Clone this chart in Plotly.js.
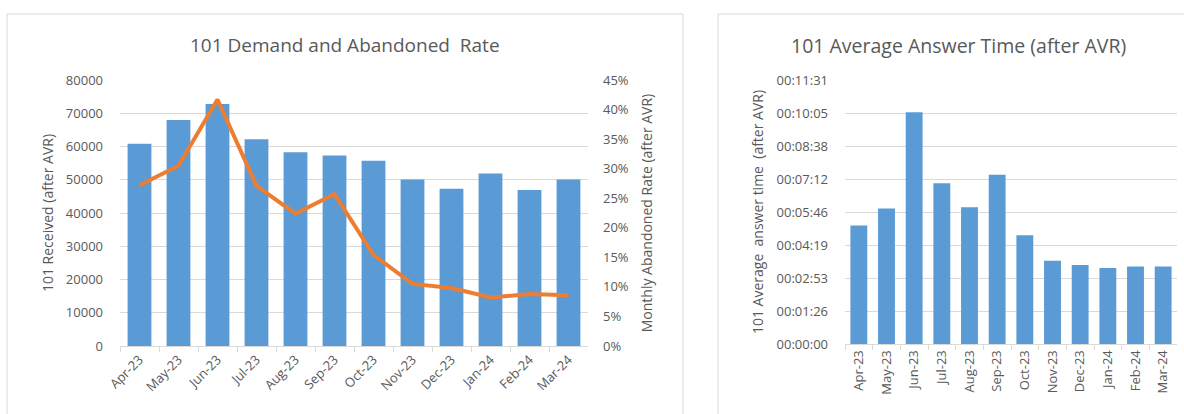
<!DOCTYPE html>
<html>
<head>
<meta charset="utf-8">
<script src="https://cdn.plot.ly/plotly-3.0.1.min.js"></script>
<style>html,body{margin:0;padding:0;background:#fff;}#chart{width:1184px;height:414px;}</style>
</head>
<body>
<div id="chart"></div>
<script>
const months = ['Apr-23','May-23','Jun-23','Jul-23','Aug-23','Sep-23','Oct-23','Nov-23','Dec-23','Jan-24','Feb-24','Mar-24'];
const received = [60800, 68000, 72800, 62200, 58300, 57300, 55700, 50100, 47300, 51900, 46900, 50100];
const abandonedRate = [0.272, 0.305, 0.417, 0.271, 0.224, 0.257, 0.154, 0.105, 0.098, 0.082, 0.088, 0.086];
const answerTimeSec = [310, 355, 607, 421, 358, 443, 285, 218, 207, 199, 203, 203];
const timeTickLabels = ['00:00:00','00:01:26','00:02:53','00:04:19','00:05:46','00:07:12','00:08:38','00:10:05','00:11:31'];
const timeTickVals = timeTickLabels.map((_, i) => i * 86.4);

const W = 1184, H = 414;
const px = x => x / W;
const py = y => (H - y) / H;
const grey = '#595959';
const grid = '#d9d9d9';
const FONT = 'Open Sans, sans-serif';

const traces = [
  {type:'bar', x: months, y: received, xaxis:'x', yaxis:'y', marker:{color:'#5b9bd5'}, name:'101 Received (after AVR)', hoverinfo:'x+y'},
  {type:'scatter', mode:'lines', x: months, y: abandonedRate, xaxis:'x', yaxis:'y2', line:{color:'#ed7d31', width:4, shape:'linear'}, name:'Monthly Abandoned Rate'},
  {type:'bar', x: months, y: answerTimeSec, xaxis:'x3', yaxis:'y3', marker:{color:'#5b9bd5'}, name:'101 Average answer time'}
];

const tickFont = {family: FONT, size: 13, color: grey};
const titleFont = {family: FONT, size: 14, color: grey};

const layout = {
  width: W, height: H,
  margin: {l:0, r:0, t:0, b:0},
  paper_bgcolor: '#fff', plot_bgcolor: 'rgba(0,0,0,0)',
  showlegend: false,
  bargap: 0.39,
  font: {family: FONT, color: grey},
  xaxis: {domain:[px(120), px(588)], anchor:'y', type:'category', showgrid:false, showline:true, linecolor:grid, linewidth:1,
    ticks:'outside', tickson:'boundaries', ticklen:5, tickcolor:grid, tickangle:-45, tickfont:tickFont, fixedrange:true},
  yaxis: {domain:[py(346), py(80)], anchor:'x', range:[0,80000], dtick:10000, tickformat:'d', showgrid:true, gridcolor:grid, gridwidth:1,
    zeroline:false, showline:false, tickfont:tickFont, ticklabelstandoff:16,
    title:{text:'101 Received (after AVR)', font:titleFont, standoff:8}},
  yaxis2: {overlaying:'y', side:'right', anchor:'x', range:[0,0.45], dtick:0.05, tickformat:'.0%', showgrid:false, zeroline:false,
    showline:false, tickfont:tickFont, ticklabelstandoff:14,
    title:{text:'Monthly Abandoned Rate (after AVR)', font:titleFont, standoff:14}},
  xaxis3: {domain:[px(845), px(1177)], anchor:'y3', type:'category', showgrid:false, showline:true, linecolor:grid, linewidth:1,
    ticks:'outside', tickson:'boundaries', ticklen:5, tickcolor:grid, tickangle:-90, tickfont:tickFont, fixedrange:true},
  yaxis3: {domain:[py(344), py(80)], anchor:'x3', range:[0, 691.2], tickmode:'array', tickvals:timeTickVals, ticktext:timeTickLabels,
    showgrid:true, gridcolor:grid, gridwidth:1, zeroline:false, showline:false, tickfont:tickFont, ticklabelstandoff:16,
    title:{text:'101 Average  answer time  (after AVR)', font:titleFont, standoff:9}},
  annotations: [
    {text:'101 Demand and Abandoned  Rate', xref:'paper', yref:'paper', x:px(345), y:py(45), showarrow:false,
      xanchor:'center', yanchor:'middle', font:{family:FONT, size:19, color:grey}},
    {text:'101 Average Answer Time (after AVR)', xref:'paper', yref:'paper', x:px(958), y:py(45), showarrow:false,
      xanchor:'center', yanchor:'middle', font:{family:FONT, size:19.5, color:grey}}
  ],
  shapes: [
    {type:'rect', xref:'paper', yref:'paper', x0:px(7), x1:px(683), y0:py(430), y1:py(14), line:{color:'#d9d9d9', width:1}, fillcolor:'rgba(0,0,0,0)', layer:'below'},
    {type:'rect', xref:'paper', yref:'paper', x0:px(718), x1:px(1200), y0:py(430), y1:py(14), line:{color:'#d9d9d9', width:1}, fillcolor:'rgba(0,0,0,0)', layer:'below'}
  ]
};

Plotly.newPlot('chart', traces, layout, {displayModeBar:false, staticPlot:true});
</script>
</body>
</html>
